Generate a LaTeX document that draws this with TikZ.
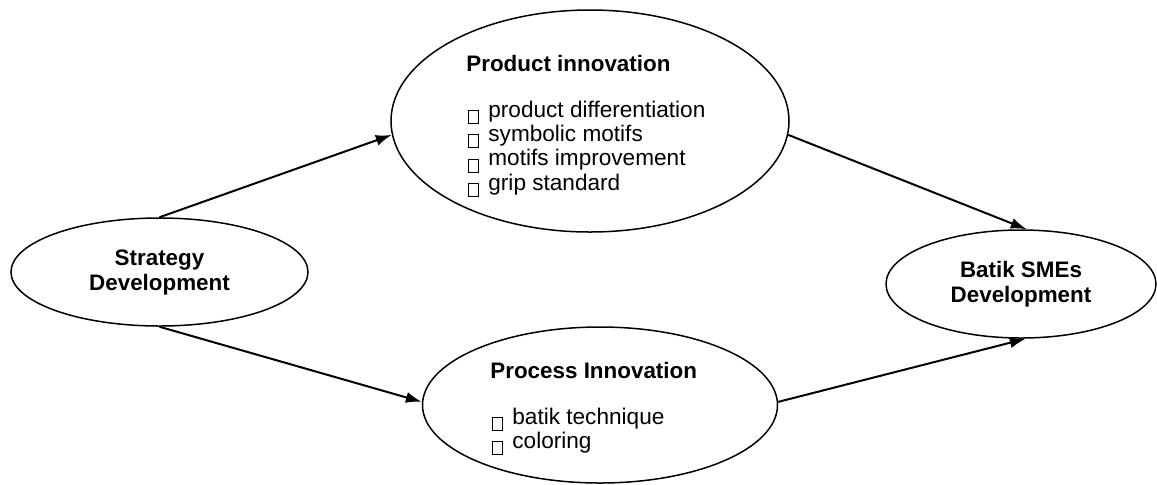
\documentclass[tikz,border=0pt]{standalone}
\usepackage{fontspec}
\setmainfont{Liberation Sans}
\usepackage{tikz}
\usetikzlibrary{arrows.meta,shapes.geometric}

\newcommand\glyphbox{\raisebox{-3pt}{\setlength{\fboxsep}{0pt}\setlength{\fboxrule}{0.5pt}\fbox{\rule{0pt}{6pt}\hspace{4.5pt}}}}

\begin{document}
\begin{tikzpicture}
    [   x=0.5pt,y=-0.5pt,
        enode/.style={draw=black,line width=0.75pt,ellipse,inner sep=0pt,align=center,
            font=\fontsize{11.2}{12.5}\selectfont\bfseries},
        item/.style={anchor=base west,inner sep=0pt,font=\fontsize{11.3}{12.5}\selectfont},
        arr/.style={line width=1pt,-{Latex[length=8pt,width=5.5pt]}},
    ]
        \useasboundingbox (0,0) rectangle (1157,484);
        \node[enode,minimum width=148.5pt,minimum height=54pt] (strat) at (159.5,272) {Strategy\\Development};
        \node[enode,minimum width=199pt,minimum height=111pt] (prod) at (590,121) {};
        \node[enode,minimum width=177.5pt,minimum height=78pt] (proc) at (600,405) {};
        \node[enode,minimum width=135pt,minimum height=54pt] (smes) at (1021,284) {Batik SMEs\\Development};
        % texts inside the two innovation ellipses
        \node[item,font=\fontsize{11.2}{12.5}\selectfont\bfseries] (prod-t) at (466,71) {Product innovation};
        \foreach \t [count=\i] in {product differentiation,symbolic motifs,motifs improvement,grip standard}
        {   \node[item] (prod-\i) at (468,{117+24.4*(\i-1)}) {\glyphbox\hspace{4.5pt}\t};
        }
        \node[item,font=\fontsize{11.2}{12.5}\selectfont\bfseries] (proc-t) at (490,378) {Process Innovation};
        \foreach \t [count=\i] in {batik technique,coloring}
        {   \node[item] (proc-\i) at (492,{424+24.4*(\i-1)}) {\glyphbox\hspace{4.5pt}\t};
        }
        \draw[arr] (strat.north) -- (prod.184);
        \draw[arr] (strat.south) -- (proc.179);
        \draw[arr] (prod.-4) -- (smes.84);
        \draw[arr] (proc.1) -- (smes.-85);
    \end{tikzpicture}
\end{document}
